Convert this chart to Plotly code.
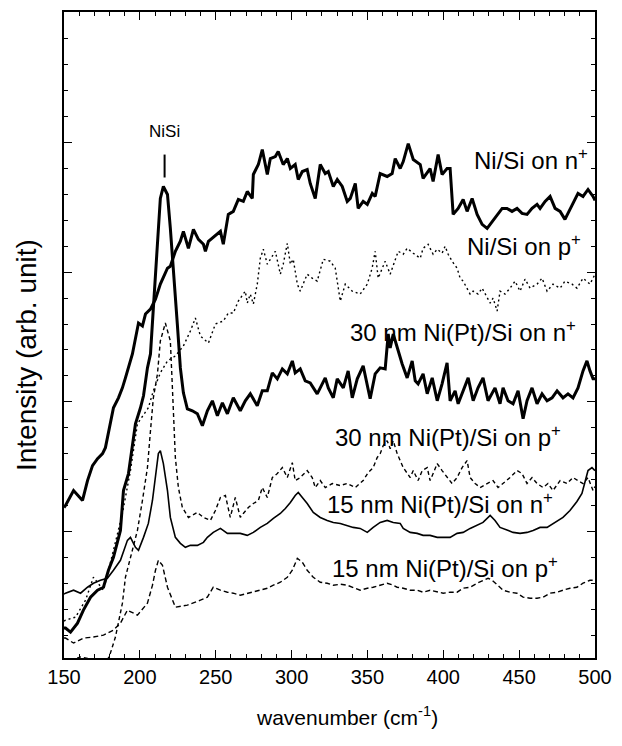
import plotly.graph_objects as go

# ---- data: (wavenumber cm^-1, intensity arb. unit) ----
nisi_n = [(150,154),(151.0,156),(156.3,171),(162.2,161),(165.5,181),(168.8,196),(172.1,203),(175.4,208),
 (177.3,214),(182.6,254),(185.9,264),(188.5,274),(190.5,284),(195.1,308),(199.1,339),(201.7,336),
 (203.7,348),(207.0,353),(210.3,363),(213.5,378),(218.2,394),(220.1,396),(223.4,411),(226.7,421),
 (228.7,431),(232.0,414),(235.3,433),(238.6,423),(241.9,418),(243.2,411),(245.2,421),(251.1,428),
 (253.1,431),(255.0,418),(258.3,448),(261.6,451),(264.9,463),(268.2,461),(270.8,471),(274.1,464),
 (274.8,488),(278.1,498),(280.7,513),(284.0,488),(286.0,504),(289.3,506),(291.2,511),(294.5,498),
 (297.2,504),(299.2,494),(302.4,498),(304.4,483),(307.1,491),(310.3,493),(312.3,479),(315.6,464),
 (318.9,498),(322.2,489),(324.2,491),(327.5,476),(330.1,483),(333.4,476),(336.7,461),(338.7,464),
 (342.0,479),(343.9,454),(347.2,461),(349.9,458),(353.2,469),(355.1,466),(358.4,489),(363.0,486),
 (366.3,489),(368.3,504),(371.6,494),(373.6,501),(376.9,519),(380.2,503),(384.8,498),(386.7,484),
 (391.3,494),(393.3,481),(396.6,508),(399.2,488),(402.5,494),(404.5,494),(406.5,448),(409.8,454),
 (413.1,463),(415.7,451),(419.0,464),(422.3,448),(425.6,438),(428.9,434),(432.2,441),(435.5,448),
 (438.8,454),(442.0,454),(445.3,451),(448.6,454),(451.9,449),(455.2,448),(458.5,454),(461.8,458),
 (463.8,454),(467.1,461),(470.4,466),(473.7,454),(477.0,451),(480.2,443),(483.5,453),(486.8,464),
 (488.8,469),(492.1,466),(495.4,473),(498.7,466),(500,462)]

nisi_p = [(150,40),(151.0,41),(157.6,44),(164.2,61),(169.4,84),(176.0,71),(182.6,111),(188.5,148),
 (193.8,191),(198.4,238),(205.6,254),(208.9,271),(213.5,289),(218.2,301),(223.4,306),(228.7,316),
 (233.3,331),(236.6,344),(239.9,326),(245.2,319),(249.8,338),(255.0,341),(258.3,349),(261.6,349),
 (264.9,361),(269.5,371),(270.8,359),(272.8,368),(274.8,358),(277.4,378),(279.4,404),(281.4,413),
 (284.0,398),(287.3,406),(289.3,411),(292.6,388),(294.5,398),(297.2,419),(299.2,398),(301.1,403),
 (303.8,378),(305.7,371),(310.3,388),(313.6,384),(316.9,381),(320.9,403),(325.5,401),(328.8,394),
 (332.1,361),(335.4,378),(340.0,371),(345.2,368),(349.9,378),(353.1,394),(355.1,411),(357.1,384),
 (361.7,401),(365.0,388),(370.3,411),(373.6,408),(376.2,414),(380.2,409),(384.8,404),(386.7,414),
 (390.0,418),(393.3,408),(396.0,413),(399.2,409),(401.2,416),(403.2,408),(405.8,401),(409.1,394),
 (411.1,384),(413.1,381),(415.7,374),(417.7,368),(419.7,371),(422.9,368),(425.6,374),(428.9,364),
 (430.9,359),(432.8,364),(435.5,351),(437.4,371),(440.7,368),(444.0,374),(447.3,381),(450.6,371),
 (453.9,383),(457.2,374),(461.8,378),(465.1,384),(468.4,371),(472.3,378),(477.0,374),(480.2,381),
 (484.9,378),(488.1,374),(492.1,384),(496.7,378),(500.0,388)]

nipt30_n = [(150,33),(151.0,33),(154.3,29),(158.9,38),(162.8,51),(167.5,64),(172.1,71),(176.0,74),
 (179.3,91),(182.6,104),(187.2,131),(189.2,171),(192.5,188),(195.1,214),(197.1,238),(200.4,254),
 (202.4,266),(205.0,294),(207.0,308),(208.9,354),(211.6,421),(213.5,464),(215.5,476),(218.2,468),
 (220.1,434),(222.1,388),(224.7,338),(226.7,294),(228.7,269),(231.3,253),(234.6,251),(237.9,248),
 (241.2,236),(244.5,251),(247.8,261),(251.1,246),(254.4,259),(257.7,248),(261.6,264),(266.2,251),
 (269.5,261),(272.8,268),(277.4,256),(280.7,271),(284.0,271),(287.3,289),(290.6,283),(293.9,293),
 (297.2,288),(300.5,301),(302.4,289),(305.7,293),(309.0,281),(312.3,279),(316.9,268),(318.9,274),
 (322.2,284),(324.2,274),(327.5,264),(330.1,283),(334.1,274),(337.3,291),(340.0,264),(343.3,283),
 (347.2,296),(351.8,263),(355.1,288),(358.4,294),(361.7,293),(363.7,328),(365.0,314),(367.0,328),
 (370.3,311),(372.9,298),(376.2,284),(379.5,301),(381.5,281),(383.4,278),(386.7,288),(389.4,268),
 (392.7,284),(396.0,261),(399.2,278),(402.5,299),(404.5,261),(407.8,271),(409.8,258),(413.1,271),
 (416.4,284),(419.7,261),(422.9,274),(426.2,284),(429.5,261),(434.1,274),(437.4,258),(439.4,274),
 (442.7,261),(446.0,258),(449.3,271),(452.6,243),(455.2,261),(458.5,274),(461.8,258),(465.1,268),
 (468.4,261),(471.7,264),(475.0,271),(478.9,264),(482.2,268),(485.5,264),(488.8,274),(492.1,291),
 (494.7,301),(496.7,291),(498.7,283),(500,283)]

nipt30_p = [(150,-2),(151.0,-1),(160.9,4),(170.7,1),(177.3,-4),(180.6,8),(183.9,24),(188.5,58),
 (190.5,84),(193.8,104),(198.4,131),(201.7,161),(205.0,194),(207.0,231),(208.9,264),(211.6,288),
 (213.5,321),(216.8,339),(220.1,321),(221.4,276),(223.4,204),(225.4,174),(228.0,154),(232.0,144),
 (237.9,149),(241.9,144),(246.5,141),(249.8,151),(253.1,164),(256.4,166),(259.6,144),(262.9,164),
 (266.2,144),(268.2,148),(271.5,154),(274.8,158),(278.1,161),(280.7,174),(284.0,164),(287.3,184),
 (290.6,188),(293.9,194),(297.2,184),(300.5,199),(302.4,181),(305.7,184),(310.3,191),(313.6,184),
 (315.6,174),(318.9,181),(322.2,174),(326.8,178),(332.1,176),(336.7,178),(342.0,174),(347.2,181),
 (350.5,189),(353.8,194),(356.4,204),(358.4,208),(360.4,216),(363.0,221),(365.0,213),(367.0,221),
 (369.6,208),(371.6,201),(373.6,194),(378.2,184),(380.2,191),(383.4,181),(386.1,191),(389.4,194),
 (391.3,181),(393.3,188),(396.0,198),(399.2,191),(402.5,184),(405.8,178),(409.1,184),(412.4,194),
 (415.7,201),(417.7,184),(421.0,178),(424.3,174),(428.9,178),(432.8,181),(436.1,174),(439.4,178),
 (444.0,184),(448.6,191),(451.9,188),(455.2,178),(458.5,184),(461.8,178),(465.8,174),(469.0,178),
 (472.3,171),(477.0,181),(481.6,178),(485.5,184),(488.8,181),(492.1,178),(495.4,184),(498.7,171),
 (500,175)]

nipt15_n = [(150,67),(151.0,68),(156.3,71),(160.9,68),(165.5,74),(169.4,78),(174.0,81),(178.6,83),
 (182.6,91),(187.2,101),(191.8,121),(193.8,124),(197.1,114),(199.1,111),(202.4,124),(205.6,138),
 (208.3,161),(210.3,188),(212.2,208),(213.5,211),(215.5,198),(218.2,171),(220.1,144),(223.4,124),
 (226.7,118),(230.0,114),(233.3,116),(237.9,116),(241.9,119),(244.5,124),(248.4,129),(253.1,133),
 (257.7,128),(261.6,128),(266.2,128),(270.8,126),(274.8,129),(279.4,134),(284.0,138),(288.0,143),
 (292.6,148),(295.9,153),(299.2,159),(302.4,166),(304.4,169),(307.1,164),(310.3,158),(314.3,149),
 (318.9,144),(323.5,141),(327.5,139),(332.1,138),(336.7,136),(340.6,134),(345.2,133),(349.9,129),
 (353.8,134),(358.4,139),(363.0,141),(367.0,139),(371.6,138),(373.6,133),(378.2,129),(382.8,128),
 (386.7,126),(391.3,126),(396.0,124),(399.9,124),(404.5,124),(409.1,128),(413.1,129),(417.7,133),
 (422.3,136),(426.2,139),(430.9,146),(434.1,141),(437.4,134),(442.0,131),(446.0,129),(450.6,128),
 (455.2,129),(459.2,131),(463.8,134),(468.4,134),(472.3,138),(475.6,141),(478.9,144),(483.5,151),
 (488.1,160),(491.4,168),(493.4,181),(495.4,191),(498.0,194),(500.0,191)]

nipt15_p = [(150,23),(151.0,23),(156.3,18),(162.8,23),(169.4,24),(176.0,26),(182.6,31),(187.2,38),
 (191.8,51),(198.4,46),(205.0,58),(208.3,76),(210.3,91),(212.2,101),(214.9,96),(218.2,74),
 (223.4,54),(231.3,56),(239.9,61),(244.5,64),(248.4,74),(253.1,71),(257.7,69),(261.6,68),
 (266.2,66),(270.8,68),(274.8,69),(279.4,71),(284.0,73),(288.0,76),(292.6,79),(297.2,84),
 (300.5,91),(303.8,103),(307.1,99),(310.3,91),(314.3,84),(318.9,79),(323.5,78),(327.5,76),
 (332.1,77),(336.7,76),(340.6,74),(345.2,71),(349.9,73),(353.8,74),(358.4,76),(363.0,78),
 (367.0,76),(369.6,74),(373.6,73),(378.2,71),(382.8,71),(386.7,69),(391.3,71),(396.0,69),
 (399.9,68),(404.5,69),(409.1,69),(413.1,73),(417.7,74),(422.3,78),(426.2,81),(429.5,83),
 (432.2,81),(435.5,76),(439.4,71),(444.0,69),(448.6,68),(452.6,64),(457.2,63),(461.8,63),
 (465.8,64),(470.4,68),(475.0,69),(478.9,71),(483.5,73),(488.1,74),(492.1,78),(496.7,81),(500.0,81)]

labels = ["Ni/Si on n<sup>+</sup>", "Ni/Si on p<sup>+</sup>",
          "30 nm Ni(Pt)/Si on n<sup>+</sup>", "30 nm Ni(Pt)/Si on p<sup>+</sup>",
          "15 nm Ni(Pt)/Si on n<sup>+</sup>", "15 nm Ni(Pt)/Si on p<sup>+</sup>"]
label_x = [496.7, 492.1, 488.8, 478.9, 473.7, 477.0]
label_y = [504, 417, 331, 226, 158, 94]

nisi_label = "NiSi"
nisi_wn = 216.3
nisi_label_y = 531
nisi_mark_y = (485, 508)

x_ticks = [150, 200, 250, 300, 350, 400, 450, 500]

FONT = "Liberation Sans, Arial, Helvetica, sans-serif"

series = [
    (nisi_n,  dict(color="black", width=3.0)),
    (nisi_p,  dict(color="black", width=1.4, dash="2px,3px")),
    (nipt30_n, dict(color="black", width=3.0)),
    (nipt30_p, dict(color="black", width=1.4, dash="4px,3px")),
    (nipt15_n, dict(color="black", width=1.6)),
    (nipt15_p, dict(color="black", width=1.4, dash="5px,3px")),
]

fig = go.Figure()
for data, line in series:
    xs = [p[0] for p in data]
    ys = [p[1] for p in data]
    fig.add_trace(go.Scatter(x=xs, y=ys, mode="lines", line=line, showlegend=False,
                             hoverinfo="skip"))

for t, x, y in zip(labels, label_x, label_y):
    fig.add_annotation(x=x, y=y, xref="x", yref="y", text=t, showarrow=False,
                       xanchor="right", yanchor="middle",
                       font=dict(family=FONT, size=24, color="black"))

fig.add_annotation(x=nisi_wn, y=nisi_label_y, xref="x", yref="y", text=nisi_label,
                   showarrow=False, xanchor="center", yanchor="middle",
                   font=dict(family=FONT, size=17, color="black"))
fig.add_shape(type="line", xref="x", yref="y", x0=nisi_wn, x1=nisi_wn,
              y0=nisi_mark_y[0], y1=nisi_mark_y[1], line=dict(color="black", width=2))

# axis titles
fig.add_annotation(x=0.533, y=-0.0895, xref="paper", yref="paper",
                   text="wavenumber (cm<sup>-1</sup>)", showarrow=False,
                   xanchor="center", yanchor="middle",
                   font=dict(family=FONT, size=21, color="black"))
fig.add_annotation(x=-0.0716, y=0.469, xref="paper", yref="paper",
                   text="Intensity (arb. unit)", showarrow=False, textangle=-90,
                   xanchor="center", yanchor="middle",
                   font=dict(family=FONT, size=28, color="black"))

fig.update_layout(
    width=622, height=746,
    margin=dict(l=64, r=27, t=10, b=88),
    paper_bgcolor="white", plot_bgcolor="white",
    font=dict(family=FONT, color="black"),
    xaxis=dict(range=[150, 500], tickvals=x_ticks, ticktext=[str(v) for v in x_ticks],
               ticks="inside", ticklen=8, tickwidth=1.2, tickcolor="black",
               showline=True, linewidth=1.5, linecolor="black", mirror="ticks",
               showgrid=False, zeroline=False,
               tickfont=dict(family=FONT, size=20, color="black"),
               minor=dict(dtick=10, tick0=150, ticks="inside", ticklen=4, tickwidth=1,
                          tickcolor="black", showgrid=False)),
    yaxis=dict(range=[3, 651], tick0=0, dtick=130, showticklabels=False,
               ticks="inside", ticklen=8, tickwidth=1.2, tickcolor="black",
               showline=True, linewidth=1.5, linecolor="black", mirror="ticks",
               showgrid=False, zeroline=False,
               minor=dict(dtick=26, tick0=0, ticks="inside", ticklen=4, tickwidth=1,
                          tickcolor="black", showgrid=False)),
)

fig.write_html("out.html")
